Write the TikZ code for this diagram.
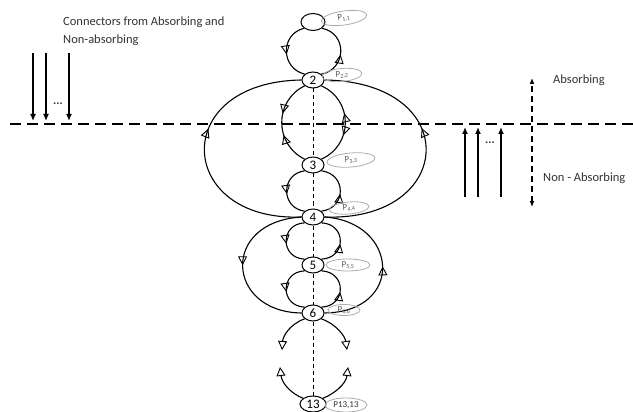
\documentclass[tikz,border=0pt]{standalone}
\usepackage{fontspec}
\setmainfont{Carlito}
\usetikzlibrary{arrows.meta,decorations.markings,shapes.geometric}
\definecolor{txt}{HTML}{333333}
\tikzset{
  st/.style={ellipse, draw, line width=1pt, fill=white, inner sep=0pt,
    minimum width=22pt, minimum height=16pt, font=\fontsize{13}{13}\selectfont},
  plab/.style={ellipse, draw=gray!65, line width=0.8pt, inner sep=0pt,
    font=\fontsize{9}{9}\selectfont, text=gray!70!black},
  arcline/.style={line width=1.1pt},
  fwd/.style={postaction={decorate,decoration={markings,
    mark=at position #1 with {\arrow{Triangle[open,length=9pt,width=9pt,line width=0.9pt]}}}}},
  bwd/.style={postaction={decorate,decoration={markings,
    mark=at position #1 with {\arrowreversed{Triangle[open,length=9pt,width=9pt,line width=0.9pt]}}}}},
  endtri/.style={-{Triangle[open,length=9pt,width=9pt,line width=0.9pt]}},
  solidarr/.style={line width=1.5pt,-{Latex[length=7pt,width=6pt]}},
  label/.style={font=\fontsize{12.5}{18}\selectfont, text=txt, inner sep=0pt},
  vdash/.style={line width=0.9pt, dash pattern=on 4pt off 3pt},
}
\begin{document}
\begin{tikzpicture}[x=1pt,y=-1pt]
\useasboundingbox (0,0) rectangle (633,412);

% horizontal boundary
\coordinate (hl) at (10,124);
\coordinate (hr) at (633,124);
\draw[line width=1.8pt, dash pattern=on 11pt off 6pt] (hl) -- (hr);

% states
\node[st, minimum width=24pt, minimum height=17pt] (n1) at (313,22) {};
\node[st] (n2) at (313,80) {2};
\node[st] (n3) at (313,165) {3};
\node[st] (n4) at (313,217) {4};
\node[st] (n5) at (313,265) {5};
\node[st] (n6) at (313,313) {6};
\node[st, minimum width=26pt, minimum height=16pt] (n13) at (313,404) {13};

% vertical dashed line
\draw[vdash] (n2) -- (n3);
\draw[vdash] (n3) -- (n4);
\draw[vdash] (n4) -- (n5);
\draw[vdash] (n5) -- (n6);
\draw[vdash] (n6) -- (n13);

% small loops
\draw[arcline, fwd=0.55] (n1.215) .. controls +(-24,6) and +(-24,-6) .. (n2.145);
\draw[arcline, fwd=0.45] (n2.35) .. controls +(25.5,-5) and +(25.5,5) .. (n1.-35);

\draw[arcline, fwd=0.4, bwd=0.64] (n2.215) .. controls +(-30.6,15) and +(-30.6,-15) .. (n3.145);
\draw[arcline, bwd=0.36, fwd=0.6] (n3.35) .. controls +(32,-14.3) and +(32,14.3) .. (n2.-35);

\draw[arcline, fwd=0.55] (n3.215) .. controls +(-24,3) and +(-24,-3) .. (n4.145);
\draw[arcline, fwd=0.45] (n4.35) .. controls +(25.3,-3) and +(25.3,3) .. (n3.-35);

\draw[arcline, fwd=0.55] (n4.215) .. controls +(-24.7,1) and +(-24.7,-1) .. (n5.145);
\draw[arcline, fwd=0.45] (n5.35) .. controls +(25.3,-1) and +(25.3,1) .. (n4.-35);

\draw[arcline, fwd=0.55] (n5.215) .. controls +(-24.7,1) and +(-24.7,-1) .. (n6.145);
\draw[arcline, fwd=0.45] (n6.35) .. controls +(25.3,-1) and +(25.3,1) .. (n5.-35);

% big loops
\draw[arcline, bwd=0.42] (n2.west) .. controls (168,82) and (176,222) .. (n4.west);
\draw[arcline, fwd=0.58] (n4.east) .. controls (456,222) and (464,82) .. (n2.east);

\draw[arcline, fwd=0.5] (n4.west) .. controls (220,222) and (226,312) .. (n6.west);
\draw[arcline, fwd=0.5] (n6.east) .. controls (405,312) and (399,222) .. (n4.east);

% below 6 / above 13
\coordinate (d6l) at (282,350);
\coordinate (d6r) at (347,350);
\coordinate (u13l) at (280,367);
\coordinate (u13r) at (348,367);
\draw[arcline, endtri] (n6.215) .. controls (290,324) and (283,336) .. (d6l);
\draw[arcline, endtri] (n6.-35) .. controls (336,324) and (345,336) .. (d6r);
\draw[arcline, endtri] (n13.150) .. controls (292,394) and (282,384) .. (u13l);
\draw[arcline, endtri] (n13.30) .. controls (334,394) and (346,384) .. (u13r);

% probability labels
\node[plab, minimum width=46pt, minimum height=14pt, rotate=8] (p1) at (344,18) {P\textsubscript{1,1}};
\node[plab, minimum width=40pt, minimum height=13pt, rotate=5] (p2) at (342,75) {P\textsubscript{2,2}};
\node[plab, minimum width=48pt, minimum height=14pt, rotate=5] (p3) at (351,160) {P\textsubscript{3,3}};
\node[plab, minimum width=40pt, minimum height=12pt, rotate=5] (p4) at (349,208) {P\textsubscript{4,4}};
\node[plab, minimum width=44pt, minimum height=12pt] (p5) at (348,265) {P\textsubscript{5,5}};
\node[plab, minimum width=32pt, minimum height=11pt] (p6) at (344,310) {P\textsubscript{6,6}};
\node[plab, minimum width=42pt, minimum height=14pt, font=\fontsize{9}{9}\selectfont, text=txt] (p13) at (346,405) {P13,13};

% left connectors
\node[label, anchor=west, align=left] (ltext) at (63,31) {Connectors from Absorbing and\\Non-absorbing};
\coordinate (la1) at (33,53);  \coordinate (lb1) at (33,121);
\coordinate (la2) at (46,53);  \coordinate (lb2) at (46,121);
\coordinate (la3) at (69,53);  \coordinate (lb3) at (69,121);
\draw[solidarr] (la1) -- (lb1);
\draw[solidarr] (la2) -- (lb2);
\draw[solidarr] (la3) -- (lb3);
\node[label, font=\fontsize{12}{12}\selectfont\bfseries] (ldots) at (58,104) {...};

% right connectors
\coordinate (ra1) at (465,197);  \coordinate (rb1) at (465,127);
\coordinate (ra2) at (478,197);  \coordinate (rb2) at (478,127);
\coordinate (ra3) at (501,197);  \coordinate (rb3) at (501,127);
\draw[solidarr] (ra1) -- (rb1);
\draw[solidarr] (ra2) -- (rb2);
\draw[solidarr] (ra3) -- (rb3);
\node[label, font=\fontsize{12}{12}\selectfont\bfseries] (rdots) at (490,143) {...};

% absorbing / non-absorbing indicator
\coordinate (abs) at (532,78);
\coordinate (nabs) at (532,207);
\draw[line width=1.4pt, dash pattern=on 6pt off 4pt, {Latex[length=6pt,width=5pt]}-{Latex[length=6pt,width=5pt]}] (nabs) -- (abs);
\node[label, anchor=west] (tabs) at (553,80) {Absorbing};
\node[label, anchor=west] (tnabs) at (543,178) {Non - Absorbing};
\end{tikzpicture}
\end{document}
